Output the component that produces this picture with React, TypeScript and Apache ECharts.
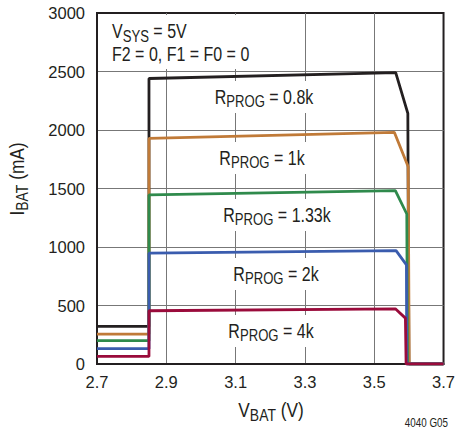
import React, { useEffect, useRef } from "react";
import * as echarts from "echarts";

// Axis ranges and ticks
const X_MIN = 2.7;
const X_MAX = 3.7;
const X_STEP = 0.2;
const Y_MIN = 0;
const Y_MAX = 3000;
const Y_STEP = 500;

// Series: R_PROG values and colours
const RPROG_LABELS = ["0.8k", "1k", "1.33k", "2k", "4k"];
const SERIES_COLORS = ["#231f20", "#c07a38", "#2f8a4c", "#3a5cae", "#9a0b3b"];

// Curves: [V_BAT (V), I_BAT (mA)]
const curve08k: [number, number][] = [
  [2.7, 321], [2.85, 321], [2.85, 2440], [3.562, 2490], [3.597, 2142], [3.6, 0], [3.7, 0],
];
const curve1k: [number, number][] = [
  [2.7, 256], [2.85, 256], [2.85, 1928], [3.558, 1980], [3.598, 1686], [3.601, 0], [3.7, 0],
];
const curve133k: [number, number][] = [
  [2.7, 199], [2.85, 199], [2.85, 1445], [3.561, 1482], [3.594, 1282], [3.596, 0], [3.7, 0],
];
const curve2k: [number, number][] = [
  [2.7, 131], [2.85, 131], [2.85, 947], [3.563, 969], [3.593, 847], [3.594, 0], [3.7, 0],
];
const curve4k: [number, number][] = [
  [2.7, 65], [2.85, 65], [2.85, 455], [3.561, 472], [3.59, 392], [3.592, 0], [3.7, 0],
];
const CURVES = [curve08k, curve1k, curve133k, curve2k, curve4k];

const FONT = "'Liberation Sans', Arial, sans-serif";
const INK = "#231f20";
const CONDENSE = 0.82;

function richStyles(main: number, sub: number, drop: number, lh: number) {
  return {
    m: { fontSize: main, fontFamily: FONT, fill: INK, verticalAlign: "middle", lineHeight: lh },
    s: {
      fontSize: sub,
      fontFamily: FONT,
      fill: INK,
      verticalAlign: "middle",
      lineHeight: lh,
      padding: [drop, 0, 0, 0],
    },
  };
}

// label positions (pixel centres) for the R_PROG annotations
const LABEL_POS: [number, number][] = [
  [264, 97],
  [262, 158],
  [277, 215],
  [276, 274],
  [271, 331],
];

export default function App() {
  const ref = useRef<HTMLDivElement>(null);
  useEffect(() => {
    if (!ref.current) return;
    const chart = echarts.init(ref.current, undefined, { renderer: "svg" });

    const graphic: any[] = [
      {
        type: "rect",
        z: 1,
        silent: true,
        shape: { x: 99, y: 15, width: 193, height: 54 },
        style: { fill: "#ffffff" },
      },
      {
        type: "text",
        z: 3,
        x: 112,
        y: 43,
        scaleX: CONDENSE,
        style: {
          text: "{m|V}{s|SYS}{m| = 5V}\n{m|F2 = 0, F1 = F0 = 0}",
          rich: richStyles(19.5, 16, 10, 23),
          align: "left",
          verticalAlign: "middle",
        },
      },
      {
        type: "text",
        z: 3,
        x: 271,
        y: 410,
        scaleX: CONDENSE,
        style: {
          text: "{m|V}{s|BAT}{m| (V)}",
          rich: richStyles(21, 17, 10, 24),
          align: "center",
          verticalAlign: "middle",
        },
      },
      {
        type: "text",
        z: 3,
        x: 17,
        y: 179,
        rotation: Math.PI / 2,
        scaleX: CONDENSE,
        style: {
          text: "{m|I}{s|BAT}{m| (mA)}",
          rich: richStyles(21, 17, 10, 24),
          align: "center",
          verticalAlign: "middle",
        },
      },
      {
        type: "text",
        z: 3,
        x: 448,
        y: 423,
        scaleX: CONDENSE,
        style: {
          text: "4040 G05",
          fontSize: 12,
          fontFamily: FONT,
          fill: INK,
          align: "right",
          verticalAlign: "middle",
        },
      },
    ];

    RPROG_LABELS.forEach((lab, i) => {
      graphic.push({
        type: "text",
        z: 1,
        x: LABEL_POS[i][0],
        y: LABEL_POS[i][1],
        scaleX: CONDENSE,
        style: {
          text: `{m|R}{s|PROG}{m| = ${lab}}`,
          rich: richStyles(19.5, 16, 10, 22),
          align: "center",
          verticalAlign: "middle",
          backgroundColor: "#ffffff",
          padding: [5, 10, 5, 10],
        },
      });
    });

    chart.setOption({
      animation: false,
      grid: {
        left: 97,
        right: 10,
        top: 13,
        bottom: 70,
        containLabel: false,
        show: true,
        borderColor: INK,
        borderWidth: 2,
        backgroundColor: "transparent",
      },
      xAxis: {
        type: "value",
        min: X_MIN,
        max: X_MAX,
        interval: X_STEP,
        axisLine: { show: true, lineStyle: { color: INK, width: 2 } },
        axisTick: { show: false },
        splitLine: {
          show: true,
          showMinLine: false,
          showMaxLine: false,
          lineStyle: { color: "#777777", width: 1 },
        },
        axisLabel: {
          fontSize: 16.5,
          fontFamily: FONT,
          color: INK,
          margin: 9,
          formatter: (v: number) => v.toFixed(1),
        },
      },
      yAxis: {
        type: "value",
        min: Y_MIN,
        max: Y_MAX,
        interval: Y_STEP,
        axisLine: { show: true, lineStyle: { color: INK, width: 2 } },
        axisTick: { show: false },
        splitLine: {
          show: true,
          showMinLine: false,
          showMaxLine: false,
          lineStyle: { color: "#777777", width: 1 },
        },
        axisLabel: {
          fontSize: 16.5,
          fontFamily: FONT,
          color: INK,
          margin: 12,
          formatter: (v: number) => String(v),
        },
      },
      graphic,
      series: CURVES.map((data, i) => ({
        name: "RPROG = " + RPROG_LABELS[i],
        type: "line",
        data,
        symbol: "none",
        showSymbol: false,
        lineStyle: { color: SERIES_COLORS[i], width: 2.8 },
        itemStyle: { color: SERIES_COLORS[i] },
        z: 2,
      })),
    });

    return () => chart.dispose();
  }, []);

  return (
    <div
      ref={ref}
      style={{ position: "fixed", left: 0, top: 0, width: 458, height: 434, background: "#ffffff" }}
    />
  );
}
